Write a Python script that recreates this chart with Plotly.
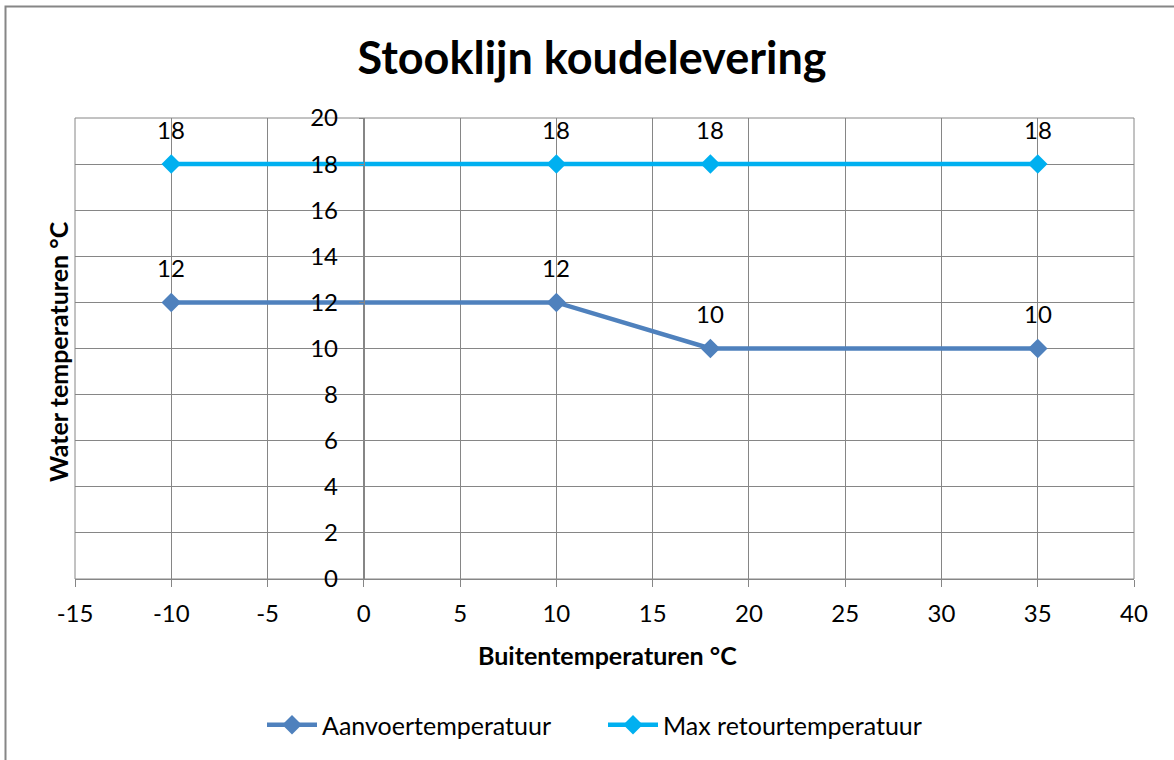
import plotly.graph_objects as go

# Data
buiten_temp = [-10, 10, 18, 35]
aanvoer = [12, 12, 10, 10]
max_retour = [18, 18, 18, 18]
series_names = ["Aanvoertemperatuur", "Max retourtemperatuur"]
x_ticks = [-15, -10, -5, 0, 5, 10, 15, 20, 25, 30, 35, 40]
y_ticks = [0, 2, 4, 6, 8, 10, 12, 14, 16, 18, 20]

FONT = "Lato"
GRID = "#868686"
W, H = 1174, 760
L, R, T, B = 75, 40, 118, 181
pw, ph = W - L - R, H - T - B

def px_to_paper_x(px):
    return (px - L) / pw

def px_to_paper_y(py):
    return (H - B - py) / ph

fig = go.Figure()
fig.add_trace(go.Scatter(
    x=buiten_temp, y=aanvoer, name=series_names[0], mode="lines+markers",
    line=dict(color="#4F81BD", width=4.5),
    marker=dict(symbol="diamond", size=15, color="#4F81BD"),
))
fig.add_trace(go.Scatter(
    x=buiten_temp, y=max_retour, name=series_names[1], mode="lines+markers",
    line=dict(color="#00B0F0", width=4.5),
    marker=dict(symbol="diamond", size=15, color="#00B0F0"),
))

annotations = []
for xs, ys in [(buiten_temp, aanvoer), (buiten_temp, max_retour)]:
    for xv, yv in zip(xs, ys):
        annotations.append(dict(x=xv, y=yv, xref="x", yref="y", text=str(yv),
                                showarrow=False, yshift=35,
                                xanchor="center", yanchor="middle",
                                font=dict(family=FONT, size=24, color="black")))
annotations.append(dict(
    x=px_to_paper_x(58), y=px_to_paper_y(352), xref="paper", yref="paper",
    xanchor="center", yanchor="middle",
    text="<b>Water temperaturen °C</b>", textangle=-90, showarrow=False,
    font=dict(family=FONT, size=25, color="black")))
annotations.append(dict(
    x=px_to_paper_x(607), y=px_to_paper_y(655), xref="paper", yref="paper",
    xanchor="center", yanchor="middle",
    text="<b>Buitentemperaturen °C</b>", showarrow=False,
    font=dict(family=FONT, size=25, color="black")))

shapes = [
    dict(type="rect", xref="paper", yref="paper", x0=0, x1=1, y0=0, y1=1,
         line=dict(color=GRID, width=1), layer="below"),
    dict(type="rect", xref="paper", yref="paper",
         x0=px_to_paper_x(5.5), x1=px_to_paper_x(1200),
         y0=px_to_paper_y(800), y1=px_to_paper_y(6.5),
         line=dict(color=GRID, width=2), layer="below"),
]

fig.update_layout(
    width=W, height=H,
    margin=dict(l=L, r=R, t=T, b=B),
    paper_bgcolor="white", plot_bgcolor="white",
    font=dict(family=FONT, size=24, color="black"),
    title=dict(text="<b>Stooklijn koudelevering</b>", x=px_to_paper_x(592), xref="paper",
               xanchor="center", y=1 - 58 / H, yanchor="middle",
               font=dict(family=FONT, size=45, color="black")),
    xaxis=dict(range=[-15, 40], tickvals=x_ticks, ticktext=[str(v) for v in x_ticks],
               showgrid=True, gridcolor=GRID, gridwidth=1,
               zeroline=False, showline=True, linecolor=GRID, linewidth=1,
               ticks="outside", ticklen=7, tickcolor=GRID, ticklabelstandoff=6,
               tickfont=dict(family=FONT, size=24, color="black")),
    yaxis=dict(range=[0, 20], tickvals=y_ticks, ticktext=[str(v) for v in y_ticks],
               showgrid=True, gridcolor=GRID, gridwidth=1,
               zeroline=False, showline=True, linecolor=GRID, linewidth=1,
               anchor="free", position=15 / 55,
               ticks="outside", ticklen=5, tickcolor=GRID, ticklabelstandoff=16,
               tickfont=dict(family=FONT, size=24, color="black")),
    legend=dict(orientation="h", x=px_to_paper_x(262), xanchor="left",
                y=px_to_paper_y(725), yanchor="middle",
                font=dict(family=FONT, size=25, color="black"),
                itemwidth=50, entrywidth=276, entrywidthmode="pixels", tracegroupgap=0),
    showlegend=True,
    annotations=annotations,
    shapes=shapes,
)

fig.write_html("out.html", config={"displayModeBar": False},
               post_script="document.body.style.margin='0';")
